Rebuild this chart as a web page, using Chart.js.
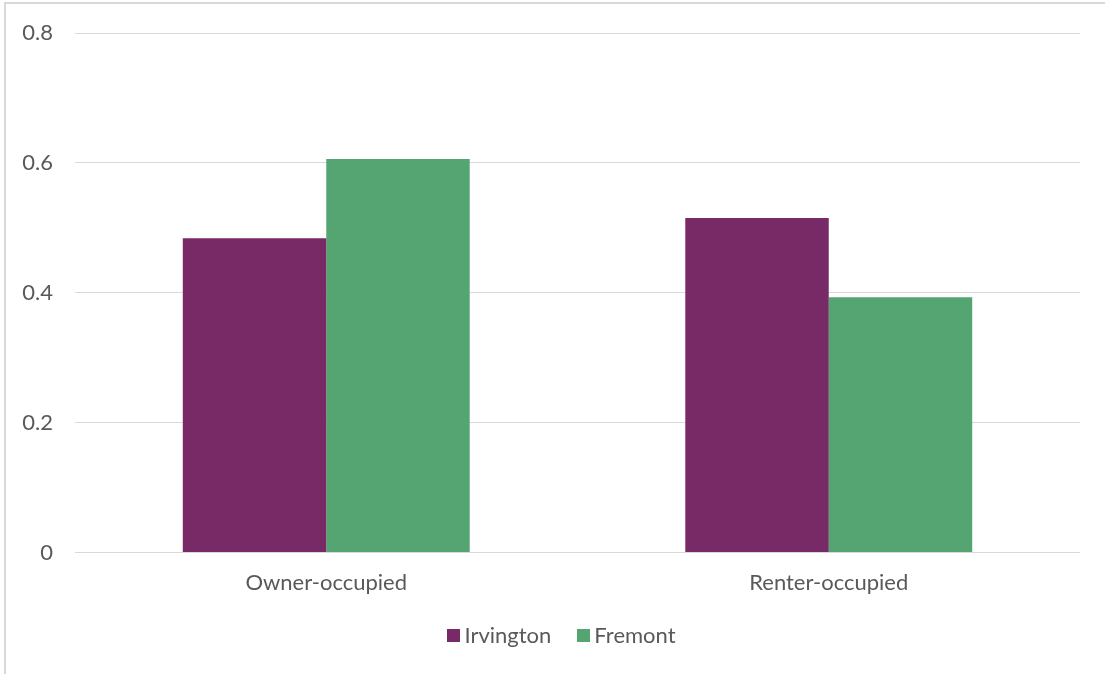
<!DOCTYPE html>
<html>
<head>
<meta charset="utf-8">
<script src="https://cdn.jsdelivr.net/npm/chart.js@4"></script>
<style>
  html, body { margin: 0; padding: 0; background: #fff; }
  #wrap { position: absolute; left: 0; top: 0; width: 1105px; height: 674px; }
  #frame { position: absolute; left: 4px; top: 2px; right: -10px; bottom: -10px; border: 2px solid #d9d9d9; }
  #legend {
    position: absolute; left: 0; width: 1123px; top: 622px; height: 26px;
    display: flex; justify-content: center; align-items: center;
    font-family: Lato, sans-serif; font-size: 22px; color: #595959; line-height: 26px;
  }
  #legend .item { display: flex; align-items: center; margin: 0 13px; }
  #legend .swatch { width: 13px; height: 13px; margin-right: 4px; }
</style>
</head>
<body>
<div id="wrap">
  <div id="frame"></div>
  <canvas id="tenureChart" width="1105" height="674"></canvas>
  <div id="legend"></div>
</div>
<script>
// Tenencia de vivienda: proporción por tipo
const categories = ['Owner-occupied', 'Renter-occupied'];
const irvington = [0.484, 0.515];
const fremont = [0.606, 0.393];
const yTicks = [0, 0.2, 0.4, 0.6, 0.8];

const textColor = '#595959';
const gridColor = '#d9d9d9';
const fontFamily = 'Lato';

// Leyenda en HTML a partir de los datasets
const htmlLegend = {
    id: 'htmlLegend',
    afterUpdate(chart) {
        const box = document.getElementById('legend');
        box.innerHTML = '';
        chart.data.datasets.forEach(ds => {
            const item = document.createElement('span');
            item.className = 'item';
            const sw = document.createElement('span');
            sw.className = 'swatch';
            sw.style.background = ds.backgroundColor;
            item.appendChild(sw);
            item.appendChild(document.createTextNode(ds.label));
            box.appendChild(item);
        });
    }
};

new Chart(document.getElementById('tenureChart'), {
    type: 'bar',
    data: {
        labels: categories,
        datasets: [{
            label: 'Irvington',
            data: irvington,
            backgroundColor: '#772A66'
        }, {
            label: 'Fremont',
            data: fremont,
            backgroundColor: '#55A572'
        }]
    },
    options: {
        responsive: false,
        animation: false,
        layout: { padding: { left: 0, right: 25, top: 33, bottom: 61 } },
        datasets: {
            bar: { categoryPercentage: 0.571, barPercentage: 1.0 }
        },
        scales: {
            x: {
                grid: { display: false, drawTicks: false },
                border: { display: false },
                ticks: { color: textColor, font: { family: fontFamily, size: 22 }, padding: 17 }
            },
            y: {
                min: 0,
                max: 0.8,
                afterFit: (scale) => {
                    scale.width = 75;
                    scale.paddingTop = 0;
                    scale.paddingBottom = 0;
                },
                afterBuildTicks: (scale) => { scale.ticks = yTicks.map(v => ({ value: v })); },
                grid: { color: gridColor, lineWidth: 1, drawTicks: false },
                border: { display: false },
                ticks: {
                    color: textColor,
                    font: { family: fontFamily, size: 22 },
                    padding: 22,
                    callback: (v) => v === 0 ? '0' : v.toFixed(1)
                }
            }
        },
        plugins: {
            legend: { display: false },
            tooltip: { enabled: false }
        }
    },
    plugins: [htmlLegend]
});
</script>
</body>
</html>
